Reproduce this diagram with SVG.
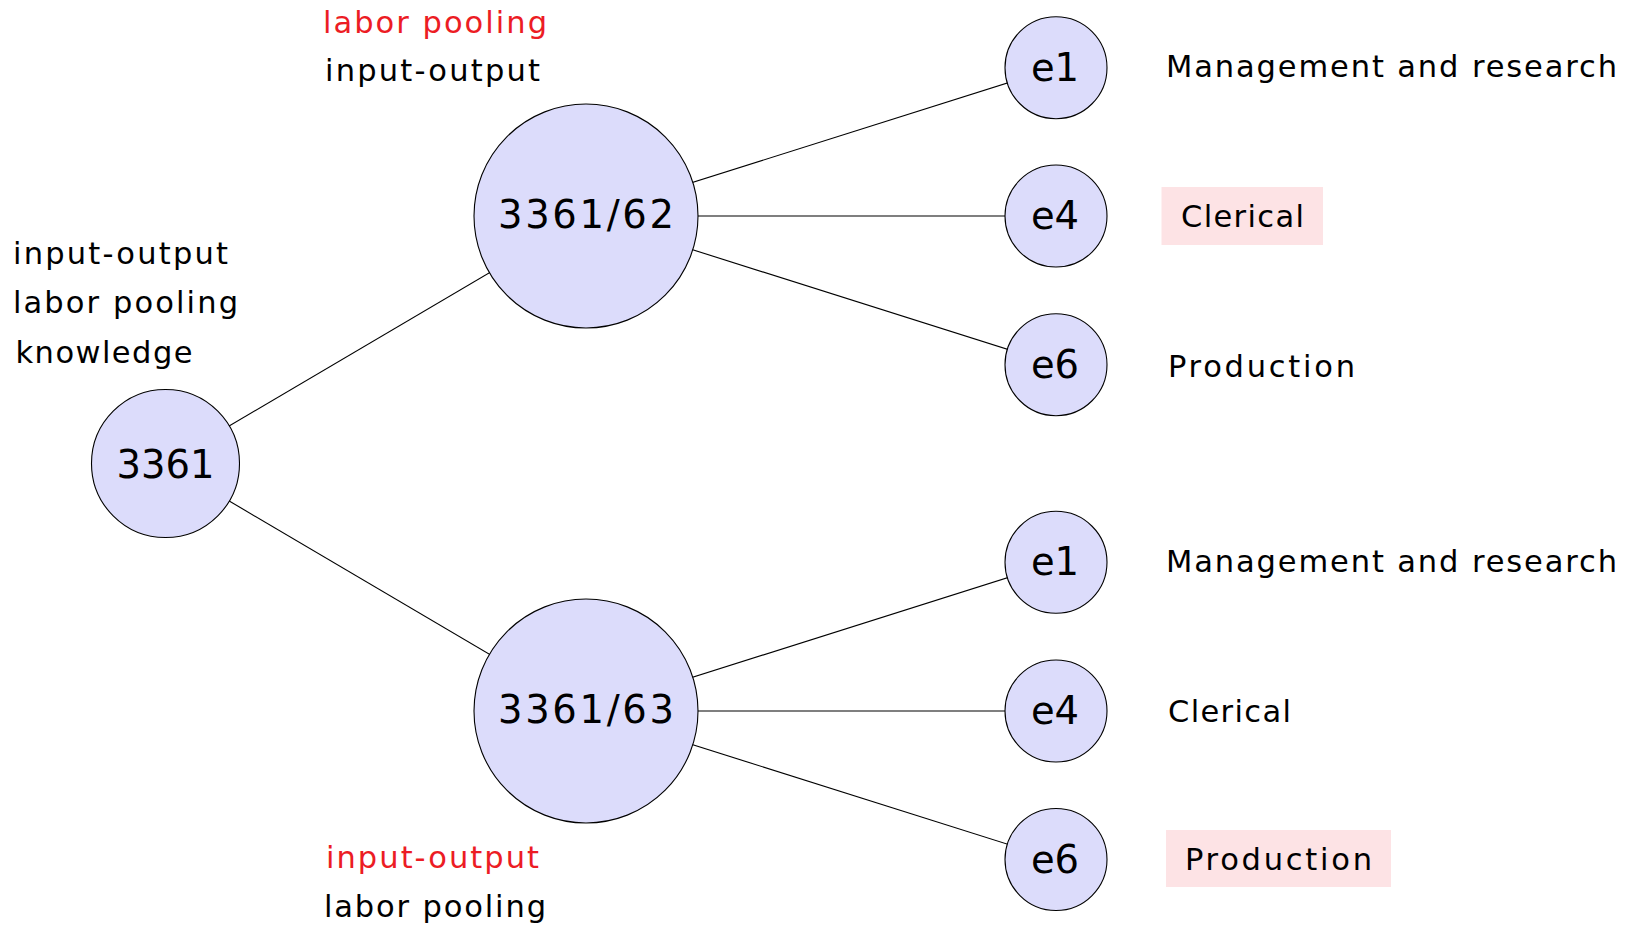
<svg xmlns="http://www.w3.org/2000/svg" width="1638" height="926" viewBox="0 0 1638 926">
  <style>
    .node circle { fill: #dcdcfb; stroke: #000; stroke-width: 1.1; }
    .node text { font-family: "DejaVu Sans", sans-serif; font-size: 38.5px; fill: #000; text-anchor: middle; }
    .edge { stroke: #000; stroke-width: 1.1; fill: none; }
    .lbl { font-family: "DejaVu Sans", sans-serif; font-size: 30.5px; fill: #000; }
    .red { fill: #ec1c24; }
    .hl { fill: #fde3e5; }
  </style>
  <rect width="1638" height="926" fill="#fff"/>
  <g id="connectors">
    <line class="edge" x1="165.5" y1="463.5" x2="586" y2="216"/>
    <line class="edge" x1="165.5" y1="463.5" x2="586" y2="711"/>
    <line class="edge" x1="586" y1="216" x2="1056" y2="67.7"/>
    <line class="edge" x1="586" y1="216" x2="1056" y2="216"/>
    <line class="edge" x1="586" y1="216" x2="1056" y2="364.7"/>
    <line class="edge" x1="586" y1="711" x2="1056" y2="562.3"/>
    <line class="edge" x1="586" y1="711" x2="1056" y2="711"/>
    <line class="edge" x1="586" y1="711" x2="1056" y2="859.5"/>
  </g>
  <g id="n3361" class="node">
    <circle cx="165.5" cy="463.5" r="74"/>
    <text x="165.5" y="477.5">3361</text>
  </g>
  <g id="n336162" class="node">
    <circle cx="586" cy="216" r="112"/>
    <text x="586" y="228" textLength="176" lengthAdjust="spacing">3361/62</text>
  </g>
  <g id="n336163" class="node">
    <circle cx="586" cy="711" r="112"/>
    <text x="586" y="723" textLength="176" lengthAdjust="spacing">3361/63</text>
  </g>
  <g id="a_e1" class="node">
    <circle cx="1056" cy="67.7" r="51"/>
    <text x="1055" y="80.5">e1</text>
  </g>
  <g id="a_e4" class="node">
    <circle cx="1056" cy="216" r="51"/>
    <text x="1055" y="229">e4</text>
  </g>
  <g id="a_e6" class="node">
    <circle cx="1056" cy="364.7" r="51"/>
    <text x="1055" y="377.5">e6</text>
  </g>
  <g id="b_e1" class="node">
    <circle cx="1056" cy="562.3" r="51"/>
    <text x="1055" y="575">e1</text>
  </g>
  <g id="b_e4" class="node">
    <circle cx="1056" cy="711" r="51"/>
    <text x="1055" y="724">e4</text>
  </g>
  <g id="b_e6" class="node">
    <circle cx="1056" cy="859.5" r="51"/>
    <text x="1055" y="872.5">e6</text>
  </g>
  <g id="labels">
    <text class="lbl red" x="323" y="33" textLength="224" lengthAdjust="spacing">labor pooling</text>
    <text class="lbl" x="325" y="81" textLength="215" lengthAdjust="spacing">input-output</text>
    <text class="lbl" x="13" y="264" textLength="215" lengthAdjust="spacing">input-output</text>
    <text class="lbl" x="13" y="313" textLength="225" lengthAdjust="spacing">labor pooling</text>
    <text class="lbl" x="15.5" y="363" textLength="177" lengthAdjust="spacing">knowledge</text>
    <text class="lbl red" x="326" y="868" textLength="213" lengthAdjust="spacing">input-output</text>
    <text class="lbl" x="324" y="917" textLength="222" lengthAdjust="spacing">labor pooling</text>
    <text class="lbl" x="1166" y="77" textLength="451" lengthAdjust="spacing">Management and research</text>
    <rect class="hl" x="1161.5" y="187" width="161.5" height="58"/>
    <text class="lbl" x="1181" y="227" textLength="123" lengthAdjust="spacing">Clerical</text>
    <text class="lbl" x="1168" y="377" textLength="187" lengthAdjust="spacing">Production</text>
    <text class="lbl" x="1166" y="572" textLength="451" lengthAdjust="spacing">Management and research</text>
    <text class="lbl" x="1168" y="722" textLength="123" lengthAdjust="spacing">Clerical</text>
    <rect class="hl" x="1166" y="830" width="225" height="57"/>
    <text class="lbl" x="1185" y="870" textLength="187" lengthAdjust="spacing">Production</text>
  </g>
</svg>
